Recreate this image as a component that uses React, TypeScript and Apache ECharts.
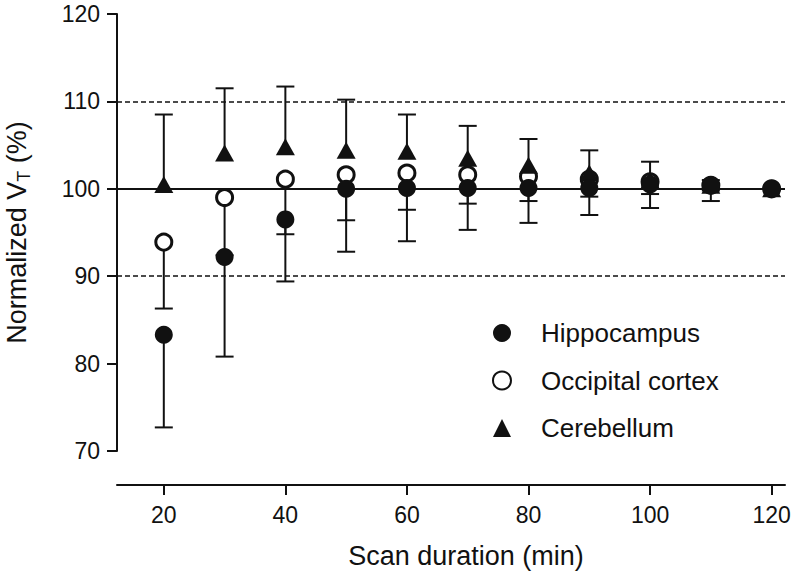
import React, { useEffect, useRef } from "react";
import * as echarts from "echarts";

const durations = [20, 30, 40, 50, 60, 70, 80, 90, 100, 110, 120];
const xTicks = [20, 40, 60, 80, 100, 120];

const hippocampus = [83.3, 92.2, 96.5, 100.0, 100.1, 100.1, 100.1, 100.1, 100.5, 100.4, 100.0];
const hippocampusLower = [72.7, 80.8, 89.4, 92.8, 94.0, 95.3, 96.1, 97.0, 97.8, 98.6, 100.0];

const occipital = [93.9, 99.0, 101.1, 101.6, 101.8, 101.6, 101.4, 101.1, 100.8, 100.4, 100.0];
const occipitalLower = [86.3, 92.4, 94.8, 96.4, 97.6, 98.3, 98.6, 99.1, 99.4, 99.8, 100.0];

const cerebellum = [100.5, 104.1, 104.8, 104.4, 104.3, 103.5, 102.7, 101.8, 101.0, 100.4, 100.0];
const cerebellumUpper = [108.5, 111.5, 111.7, 110.2, 108.5, 107.2, 105.7, 104.4, 103.1, 101.0, 100.0];

const refLines = [110, 100, 90];

const FONT = "Liberation Sans, Arial, Helvetica, sans-serif";
const INK = "#111111";

function pairs(vals: number[]) {
  return durations.map((d, i) => [d, vals[i]]);
}
function bars(vals: number[], ends: number[]) {
  return durations.map((d, i) => [d, vals[i], ends[i]]);
}

function errRender(params: any, api: any) {
  const p0 = api.coord([api.value(0), api.value(1)]);
  const p1 = api.coord([api.value(0), api.value(2)]);
  const hw = 9;
  const style = { stroke: INK, lineWidth: 2, fill: null };
  return {
    type: "group",
    children: [
      { type: "line", shape: { x1: p0[0], y1: p0[1], x2: p1[0], y2: p1[1] }, style },
      { type: "line", shape: { x1: p1[0] - hw, y1: p1[1], x2: p1[0] + hw, y2: p1[1] }, style },
    ],
  };
}

export default function App() {
  const ref = useRef<HTMLDivElement>(null);
  useEffect(() => {
    if (!ref.current) return;
    const chart = echarts.init(ref.current, null, { renderer: "svg" });
    const errSeries = (name: string, vals: number[], ends: number[], withLines: boolean) => ({
      type: "custom",
      name: name + "_err",
      renderItem: errRender,
      data: bars(vals, ends),
      encode: { x: 0, y: [1, 2] },
      z: 1,
      silent: true,
      markLine: withLines
        ? {
            silent: true,
            symbol: ["none", "none"],
            label: { show: false },
            animation: false,
            data: refLines.map((v) => ({
              yAxis: v,
              lineStyle: v === 100
                ? { color: INK, width: 2, type: "solid" }
                : { color: INK, width: 1.5, type: [5, 3] },
            })),
          }
        : undefined,
    });
    chart.setOption({
      animation: false,
      backgroundColor: "#ffffff",
      grid: { left: 117, right: 10, top: 14, bottom: 127, containLabel: false, outerBoundsMode: "none" },
      xAxis: {
        type: "value",
        min: 12.3,
        max: 122.2,
        offset: 34,
        axisLine: { show: true, lineStyle: { color: INK, width: 2 } },
        axisTick: { show: true, length: 10, lineStyle: { color: INK, width: 2 }, customValues: xTicks },
        axisLabel: { fontSize: 23, color: INK, fontFamily: FONT, margin: 18, customValues: xTicks },
        splitLine: { show: false },
        name: "Scan duration (min)",
        nameLocation: "middle",
        nameGap: 57,
        nameTextStyle: { fontSize: 27, color: INK, fontFamily: FONT, padding: [0, 0, 0, 30] },
      },
      yAxis: {
        type: "value",
        min: 70,
        max: 120,
        interval: 10,
        axisLine: { show: true, lineStyle: { color: INK, width: 2 } },
        axisTick: { show: true, length: 10, lineStyle: { color: INK, width: 2 } },
        axisLabel: { fontSize: 23, color: INK, fontFamily: FONT, margin: 17 },
        splitLine: { show: false },
        name: "{a|Normalized }{a|V}{c|T}{a| (%)}",
        nameLocation: "middle",
        nameRotate: 90,
        nameGap: 84,
        nameTextStyle: {
          rich: {
            a: { fontSize: 27, color: INK, fontFamily: FONT, lineHeight: 30, verticalAlign: "top" },
            c: { fontSize: 18, color: INK, fontFamily: FONT, lineHeight: 18, padding: [14, 0, 0, 0], verticalAlign: "bottom" },
          },
        },
      },
      legend: {
        orient: "vertical",
        left: 492,
        top: 319,
        padding: 0,
        itemWidth: 18,
        itemHeight: 18,
        itemGap: 19.5,
        selectedMode: false,
        textStyle: { fontSize: 26, color: INK, fontFamily: FONT, lineHeight: 28, padding: [0, 0, 0, 25] },
        data: ["Hippocampus", "Occipital cortex", "Cerebellum"],
      },
      series: [
        errSeries("Occipital cortex", occipital, occipitalLower, true),
        errSeries("Cerebellum", cerebellum, cerebellumUpper, false),
        errSeries("Hippocampus", hippocampus, hippocampusLower, false),
        {
          type: "scatter",
          name: "Occipital cortex",
          data: pairs(occipital),
          symbol: "circle",
          symbolSize: 16,
          itemStyle: { color: "#ffffff", borderColor: INK, borderWidth: 3, opacity: 1 },
          z: 3,
        },
        {
          type: "scatter",
          name: "Cerebellum",
          data: pairs(cerebellum),
          symbol: "triangle",
          symbolSize: [19, 17],
          itemStyle: { color: INK, opacity: 1 },
          z: 4,
        },
        {
          type: "scatter",
          name: "Hippocampus",
          data: pairs(hippocampus),
          symbol: "circle",
          symbolSize: 18,
          itemStyle: { color: INK, opacity: 1 },
          z: 5,
        },
      ],
    });
    return () => chart.dispose();
  }, []);
  return (
    <div
      ref={ref}
      style={{ position: "fixed", left: 0, top: 0, width: 795, height: 578, background: "#fff" }}
    />
  );
}
